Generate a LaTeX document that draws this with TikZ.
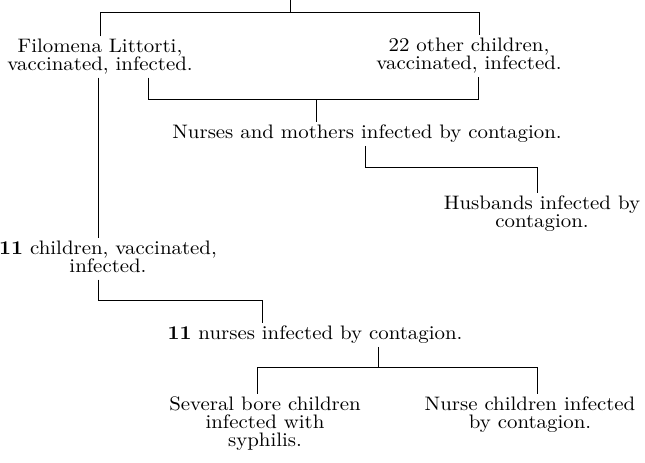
\documentclass[tikz,border=0pt]{standalone}
\usepackage{fontspec}
\setmainfont{lmroman10-regular.otf}[FakeStretch=1.07,BoldFont=lmroman10-bold.otf]
\begin{document}
\begin{tikzpicture}[x=1pt,y=-1pt,
  lbl/.style={align=center,inner sep=2pt,font=\fontsize{19.5}{18}\selectfont},
  ln/.style={line width=0.9pt}]
\useasboundingbox (0,0) rectangle (645,463);
% nodes
\node[lbl] (fil) at (100,57) {Filomena Littorti,\\vaccinated, infected.\strut};
\node[lbl] (oth) at (469,56) {22 other children,\\vaccinated, infected.\strut};
\node[lbl] (nur) at (367,134) {Nurses and mothers infected by contagion.\strut};
\node[lbl] (hus) at (542,214) {Husbands infected by\\contagion.\strut};
\node[lbl] (ch) at (108,259) {\textbf{11} children, vaccinated,\\infected.\strut};
\node[lbl] (nn) at (315,335) {\textbf{11} nurses infected by contagion.\strut};
\node[lbl] (sev) at (265,424) {Several bore children\\infected with\\syphilis.\strut};
\node[lbl] (nch) at (530,415) {Nurse children infected\\by contagion.\strut};
% bracket coordinates
\coordinate (t0) at (290,0);
\coordinate (t1) at (290,12);
\coordinate (a1) at (100,12);
\coordinate (a2) at (479,12);
\coordinate (b1) at (148,99);
\coordinate (b2) at (478,99);
\coordinate (bm) at (316,99);
\coordinate (c0) at (365,167);
\coordinate (c1) at (537,167);
\coordinate (d0) at (98,300);
\coordinate (d1) at (262,300);
\coordinate (e0) at (378,367);
\coordinate (e1) at (257,367);
\coordinate (e2) at (537,367);
% connectors
\draw[ln] (t0) -- (t1);
\draw[ln] (fil.north -| a1) -- (a1) -- (a2) -- (oth.north -| a2);
\draw[ln] (fil.south -| b1) -- (b1) -- (b2) -- (oth.south -| b2);
\draw[ln] (bm) -- (nur.north -| bm);
\draw[ln] (nur.south -| c0) -- (c0) -- (c1) -- (hus.north -| c1);
\draw[ln] (fil.south -| d0) -- (ch.north -| d0);
\draw[ln] (ch.south -| d0) -- (d0) -- (d1) -- (nn.north -| d1);
\draw[ln] (nn.south -| e0) -- (e0);
\draw[ln] (e1) -- (e2);
\draw[ln] (e1) -- (sev.north -| e1);
\draw[ln] (e2) -- (nch.north -| e2);
\end{tikzpicture}
\end{document}
